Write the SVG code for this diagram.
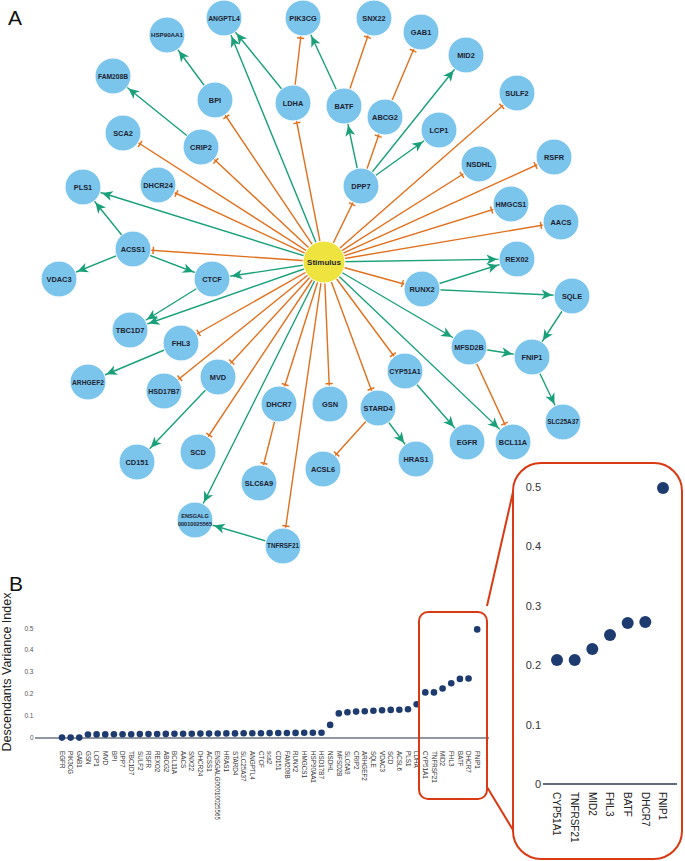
<svg xmlns="http://www.w3.org/2000/svg" width="685" height="861" viewBox="0 0 685 861">
<style>
.node circle{fill:#7bc4ec;stroke:#ffffff;stroke-width:1}
.node text{font-family:"Liberation Sans",Arial,sans-serif;font-weight:bold;font-size:7.4px;fill:#1d2330;text-anchor:middle}
.stim circle{fill:#efe33f}
.stim text{font-size:8px}
.a{stroke:#1aa078;stroke-width:1.4;fill:none;marker-end:url(#arr)}
.i{stroke:#e0701e;stroke-width:1.4;fill:none;marker-end:url(#tee)}
.panel{font-family:"Liberation Sans",Arial,sans-serif;font-size:21px;fill:#111}
.tick{font-family:"Liberation Sans",Arial,sans-serif;font-size:6.5px;fill:#555;text-anchor:end}
.xl{font-family:"Liberation Sans",Arial,sans-serif;font-size:6.3px;fill:#333}
.dot{fill:#1e3b70}
.itick{font-family:"Liberation Sans",Arial,sans-serif;font-size:11px;fill:#333;text-anchor:end}
.ixl{font-family:"Liberation Sans",Arial,sans-serif;font-size:10px;fill:#222}
.box{fill:none;stroke:#d93a14;stroke-width:2}
</style>
<defs>
<marker id="arr" markerUnits="userSpaceOnUse" orient="auto" overflow="visible" refX="0" refY="0" markerWidth="40" markerHeight="40">
<path d="M-19.8,0 L-30.5,-5 L-27.5,0 L-30.5,5 Z" fill="#1aa078"/>
</marker>
<marker id="tee" markerUnits="userSpaceOnUse" orient="auto" overflow="visible" refX="0" refY="0" markerWidth="40" markerHeight="40">
<path d="M-20.3,-3.6 L-20.3,3.6" stroke="#e0701e" stroke-width="1.5" fill="none"/>
</marker>
</defs>
<rect width="685" height="861" fill="#ffffff"/>
<text class="panel" x="8" y="25">A</text>
<text class="panel" x="9" y="591">B</text>

<g id="edges">
<line class="a" x1="324" y1="262" x2="224" y2="18"/>
<line class="a" x1="324" y1="262" x2="83" y2="187"/>
<line class="a" x1="324" y1="262" x2="212" y2="279"/>
<line class="a" x1="324" y1="262" x2="130" y2="330"/>
<line class="a" x1="324" y1="262" x2="195" y2="520"/>
<line class="a" x1="324" y1="262" x2="517" y2="259"/>
<line class="a" x1="324" y1="262" x2="469" y2="347"/>
<line class="a" x1="324" y1="262" x2="513" y2="442"/>
<line class="i" x1="324" y1="262" x2="215" y2="100"/>
<line class="i" x1="324" y1="262" x2="123" y2="133"/>
<line class="i" x1="324" y1="262" x2="201" y2="147"/>
<line class="i" x1="324" y1="262" x2="158" y2="185"/>
<line class="i" x1="324" y1="262" x2="293" y2="103"/>
<line class="i" x1="324" y1="262" x2="361" y2="186"/>
<line class="i" x1="324" y1="262" x2="517" y2="93"/>
<line class="i" x1="324" y1="262" x2="479" y2="164"/>
<line class="i" x1="324" y1="262" x2="554" y2="157"/>
<line class="i" x1="324" y1="262" x2="511" y2="204"/>
<line class="i" x1="324" y1="262" x2="561" y2="222"/>
<line class="i" x1="324" y1="262" x2="133" y2="249"/>
<line class="i" x1="324" y1="262" x2="422" y2="289"/>
<line class="i" x1="324" y1="262" x2="405" y2="371"/>
<line class="i" x1="324" y1="262" x2="181" y2="343"/>
<line class="i" x1="324" y1="262" x2="164" y2="391"/>
<line class="i" x1="324" y1="262" x2="218" y2="377"/>
<line class="i" x1="324" y1="262" x2="198" y2="452"/>
<line class="i" x1="324" y1="262" x2="279" y2="404"/>
<line class="i" x1="324" y1="262" x2="330" y2="404"/>
<line class="i" x1="324" y1="262" x2="283" y2="546"/>
<line class="i" x1="324" y1="262" x2="378" y2="408"/>
<line class="a" x1="215" y1="100" x2="167" y2="35"/>
<line class="a" x1="201" y1="147" x2="113" y2="76"/>
<line class="a" x1="293" y1="103" x2="224" y2="18"/>
<line class="i" x1="293" y1="103" x2="303" y2="18"/>
<line class="a" x1="344" y1="106" x2="303" y2="18"/>
<line class="i" x1="344" y1="106" x2="374" y2="18"/>
<line class="i" x1="385" y1="117" x2="421" y2="32"/>
<line class="a" x1="361" y1="186" x2="344" y2="106"/>
<line class="i" x1="361" y1="186" x2="385" y2="117"/>
<line class="a" x1="361" y1="186" x2="466" y2="55"/>
<line class="a" x1="361" y1="186" x2="439" y2="130"/>
<line class="a" x1="133" y1="249" x2="83" y2="187"/>
<line class="a" x1="133" y1="249" x2="59" y2="279"/>
<line class="a" x1="133" y1="249" x2="212" y2="279"/>
<line class="a" x1="212" y1="279" x2="130" y2="330"/>
<line class="a" x1="181" y1="343" x2="88" y2="382"/>
<line class="a" x1="218" y1="377" x2="137" y2="462"/>
<line class="i" x1="279" y1="404" x2="259" y2="483"/>
<line class="i" x1="378" y1="408" x2="323" y2="469"/>
<line class="a" x1="378" y1="408" x2="416" y2="459"/>
<line class="a" x1="405" y1="371" x2="467" y2="442"/>
<line class="a" x1="283" y1="546" x2="195" y2="520"/>
<line class="a" x1="422" y1="289" x2="517" y2="259"/>
<line class="a" x1="422" y1="289" x2="572" y2="296"/>
<line class="a" x1="572" y1="296" x2="532" y2="357"/>
<line class="a" x1="469" y1="347" x2="532" y2="357"/>
<line class="a" x1="532" y1="357" x2="563" y2="422"/>
<line class="i" x1="469" y1="347" x2="513" y2="442"/>
</g>

<g id="nodes">
<g id="node-stimulus" class="node stim"><circle cx="324" cy="262" r="21"/><text x="324" y="264.9">Stimulus</text></g>
<g id="node-ANGPTL4" class="node"><circle cx="224" cy="18" r="18"/><text x="224" y="20.5" style="font-size:6.8px">ANGPTL4</text></g>
<g id="node-HSP90AA1" class="node"><circle cx="167" cy="35" r="18"/><text x="167" y="37.3" style="font-size:6.2px">HSP90AA1</text></g>
<g id="node-PIK3CG" class="node"><circle cx="303" cy="18" r="18"/><text x="303" y="20.7">PIK3CG</text></g>
<g id="node-SNX22" class="node"><circle cx="374" cy="18" r="18"/><text x="374" y="20.7">SNX22</text></g>
<g id="node-GAB1" class="node"><circle cx="421" cy="32" r="18"/><text x="421" y="34.7">GAB1</text></g>
<g id="node-MID2" class="node"><circle cx="466" cy="55" r="18"/><text x="466" y="57.7">MID2</text></g>
<g id="node-SULF2" class="node"><circle cx="517" cy="93" r="18"/><text x="517" y="95.7">SULF2</text></g>
<g id="node-FAM208B" class="node"><circle cx="113" cy="76" r="18"/><text x="113" y="78.5" style="font-size:6.7px">FAM208B</text></g>
<g id="node-BPI" class="node"><circle cx="215" cy="100" r="18"/><text x="215" y="102.7">BPI</text></g>
<g id="node-LDHA" class="node"><circle cx="293" cy="103" r="18"/><text x="293" y="105.7">LDHA</text></g>
<g id="node-BATF" class="node"><circle cx="344" cy="106" r="18"/><text x="344" y="108.7">BATF</text></g>
<g id="node-ABCG2" class="node"><circle cx="385" cy="117" r="18"/><text x="385" y="119.7">ABCG2</text></g>
<g id="node-LCP1" class="node"><circle cx="439" cy="130" r="18"/><text x="439" y="132.7">LCP1</text></g>
<g id="node-SCA2" class="node"><circle cx="123" cy="133" r="18"/><text x="123" y="135.7">SCA2</text></g>
<g id="node-CRIP2" class="node"><circle cx="201" cy="147" r="18"/><text x="201" y="149.7">CRIP2</text></g>
<g id="node-NSDHL" class="node"><circle cx="479" cy="164" r="18"/><text x="479" y="166.7">NSDHL</text></g>
<g id="node-RSFR" class="node"><circle cx="554" cy="157" r="18"/><text x="554" y="159.7">RSFR</text></g>
<g id="node-DHCR24" class="node"><circle cx="158" cy="185" r="18"/><text x="158" y="187.7">DHCR24</text></g>
<g id="node-DPP7" class="node"><circle cx="361" cy="186" r="18"/><text x="361" y="188.7">DPP7</text></g>
<g id="node-PLS1" class="node"><circle cx="83" cy="187" r="18"/><text x="83" y="189.7">PLS1</text></g>
<g id="node-HMGCS1" class="node"><circle cx="511" cy="204" r="18"/><text x="511" y="206.6" style="font-size:7.2px">HMGCS1</text></g>
<g id="node-AACS" class="node"><circle cx="561" cy="222" r="18"/><text x="561" y="224.7">AACS</text></g>
<g id="node-ACSS1" class="node"><circle cx="133" cy="249" r="18"/><text x="133" y="251.7">ACSS1</text></g>
<g id="node-VDAC3" class="node"><circle cx="59" cy="279" r="18"/><text x="59" y="281.7">VDAC3</text></g>
<g id="node-CTCF" class="node"><circle cx="212" cy="279" r="18"/><text x="212" y="281.7">CTCF</text></g>
<g id="node-REX02" class="node"><circle cx="517" cy="259" r="18"/><text x="517" y="261.7">REX02</text></g>
<g id="node-RUNX2" class="node"><circle cx="422" cy="289" r="18"/><text x="422" y="291.7">RUNX2</text></g>
<g id="node-SQLE" class="node"><circle cx="572" cy="296" r="18"/><text x="572" y="298.7">SQLE</text></g>
<g id="node-TBC1D7" class="node"><circle cx="130" cy="330" r="18"/><text x="130" y="332.7">TBC1D7</text></g>
<g id="node-FHL3" class="node"><circle cx="181" cy="343" r="18"/><text x="181" y="345.7">FHL3</text></g>
<g id="node-MFSD2B" class="node"><circle cx="469" cy="347" r="18"/><text x="469" y="349.6" style="font-size:7.2px">MFSD2B</text></g>
<g id="node-FNIP1" class="node"><circle cx="532" cy="357" r="18"/><text x="532" y="359.7">FNIP1</text></g>
<g id="node-ARHGEF2" class="node"><circle cx="88" cy="382" r="18"/><text x="88" y="384.5" style="font-size:6.7px">ARHGEF2</text></g>
<g id="node-HSD17B7" class="node"><circle cx="164" cy="391" r="18"/><text x="164" y="393.5" style="font-size:7px">HSD17B7</text></g>
<g id="node-MVD" class="node"><circle cx="218" cy="377" r="18"/><text x="218" y="379.7">MVD</text></g>
<g id="node-CYP51A1" class="node"><circle cx="405" cy="371" r="18"/><text x="405" y="373.6" style="font-size:7.1px">CYP51A1</text></g>
<g id="node-DHCR7" class="node"><circle cx="279" cy="404" r="18"/><text x="279" y="406.7">DHCR7</text></g>
<g id="node-GSN" class="node"><circle cx="330" cy="404" r="18"/><text x="330" y="406.7">GSN</text></g>
<g id="node-STARD4" class="node"><circle cx="378" cy="408" r="18"/><text x="378" y="410.7">STARD4</text></g>
<g id="node-SLC25A37" class="node"><circle cx="563" cy="422" r="18"/><text x="563" y="424.3" style="font-size:6.4px">SLC25A37</text></g>
<g id="node-EGFR" class="node"><circle cx="467" cy="442" r="18"/><text x="467" y="444.7">EGFR</text></g>
<g id="node-BCL11A" class="node"><circle cx="513" cy="442" r="18"/><text x="513" y="444.7">BCL11A</text></g>
<g id="node-CD151" class="node"><circle cx="137" cy="462" r="18"/><text x="137" y="464.7">CD151</text></g>
<g id="node-SCD" class="node"><circle cx="198" cy="452" r="18"/><text x="198" y="454.7">SCD</text></g>
<g id="node-SLC6A9" class="node"><circle cx="259" cy="483" r="18"/><text x="259" y="485.7">SLC6A9</text></g>
<g id="node-ACSL6" class="node"><circle cx="323" cy="469" r="18"/><text x="323" y="471.7">ACSL6</text></g>
<g id="node-HRAS1" class="node"><circle cx="416" cy="459" r="18"/><text x="416" y="461.7">HRAS1</text></g>
<g id="node-ENSGALG00010025565" class="node"><circle cx="195" cy="520" r="18"/><text x="195" y="518" style="font-size:5.6px">ENSGALG</text><text x="195" y="525.5" style="font-size:5.6px">00010025565</text></g>
<g id="node-TNFRSF21" class="node"><circle cx="283" cy="546" r="18"/><text x="283" y="548.3" style="font-size:6.3px">TNFRSF21</text></g>
</g>

<g id="chart-main">
<text transform="translate(10.5,672) rotate(-90)" style="font-family:'Liberation Sans',Arial,sans-serif;font-size:12.5px;fill:#222;text-anchor:middle">Descendants Variance Index</text>
<text class="tick" x="33.5" y="631.3">0.5</text>
<text class="tick" x="33.5" y="652.3">0.4</text>
<text class="tick" x="33.5" y="674.3">0.3</text>
<text class="tick" x="33.5" y="696.3">0.2</text>
<text class="tick" x="33.5" y="718.3">0.1</text>
<text class="tick" x="33.5" y="740.3">0</text>
<line x1="35" y1="738" x2="489" y2="738" stroke="#6b7480" stroke-width="1.5"/>
<g id="dots-main">
<circle class="dot" cx="62" cy="737.6" r="3.3"/>
<circle class="dot" cx="70.65" cy="737.6" r="3.3"/>
<circle class="dot" cx="79.3" cy="737.6" r="3.3"/>
<circle class="dot" cx="87.95" cy="734.5" r="3.3"/>
<circle class="dot" cx="96.6" cy="734.4" r="3.3"/>
<circle class="dot" cx="105.25" cy="734.4" r="3.3"/>
<circle class="dot" cx="113.9" cy="734.3" r="3.3"/>
<circle class="dot" cx="122.55" cy="734.2" r="3.3"/>
<circle class="dot" cx="131.2" cy="734.2" r="3.3"/>
<circle class="dot" cx="139.85" cy="734.1" r="3.3"/>
<circle class="dot" cx="148.5" cy="734" r="3.3"/>
<circle class="dot" cx="157.15" cy="734" r="3.3"/>
<circle class="dot" cx="165.8" cy="733.9" r="3.3"/>
<circle class="dot" cx="174.45" cy="733.8" r="3.3"/>
<circle class="dot" cx="183.1" cy="733.8" r="3.3"/>
<circle class="dot" cx="191.75" cy="733.7" r="3.3"/>
<circle class="dot" cx="200.4" cy="733.6" r="3.3"/>
<circle class="dot" cx="209.05" cy="733.6" r="3.3"/>
<circle class="dot" cx="217.7" cy="733.5" r="3.3"/>
<circle class="dot" cx="226.35" cy="733.4" r="3.3"/>
<circle class="dot" cx="235" cy="733.4" r="3.3"/>
<circle class="dot" cx="243.65" cy="733.3" r="3.3"/>
<circle class="dot" cx="252.3" cy="733.2" r="3.3"/>
<circle class="dot" cx="260.95" cy="733.2" r="3.3"/>
<circle class="dot" cx="269.6" cy="733.1" r="3.3"/>
<circle class="dot" cx="278.25" cy="733" r="3.3"/>
<circle class="dot" cx="286.9" cy="733" r="3.3"/>
<circle class="dot" cx="295.55" cy="732.9" r="3.3"/>
<circle class="dot" cx="304.2" cy="732.8" r="3.3"/>
<circle class="dot" cx="312.85" cy="732.8" r="3.3"/>
<circle class="dot" cx="321.5" cy="732.7" r="3.3"/>
<circle class="dot" cx="330.15" cy="724.9" r="3.3"/>
<circle class="dot" cx="338.8" cy="713.4" r="3.3"/>
<circle class="dot" cx="347.45" cy="712.3" r="3.3"/>
<circle class="dot" cx="356.1" cy="711.6" r="3.3"/>
<circle class="dot" cx="364.75" cy="711.2" r="3.3"/>
<circle class="dot" cx="373.4" cy="710.75" r="3.3"/>
<circle class="dot" cx="382.05" cy="710.3" r="3.3"/>
<circle class="dot" cx="390.7" cy="709.9" r="3.3"/>
<circle class="dot" cx="399.35" cy="709.7" r="3.3"/>
<circle class="dot" cx="408" cy="709.2" r="3.3"/>
<circle class="dot" cx="416.65" cy="704.2" r="3.3"/>
<circle class="dot" cx="425.3" cy="692.4" r="3.3"/>
<circle class="dot" cx="433.95" cy="692.4" r="3.3"/>
<circle class="dot" cx="442.6" cy="688.5" r="3.3"/>
<circle class="dot" cx="451.25" cy="683.3" r="3.3"/>
<circle class="dot" cx="459.9" cy="678.9" r="3.3"/>
<circle class="dot" cx="468.55" cy="678.5" r="3.3"/>
<circle class="dot" cx="477.2" cy="629.4" r="3.3"/>
</g>
<g id="labels-main">
<text class="xl" transform="translate(59.7,751) rotate(90)">EGFR</text>
<text class="xl" transform="translate(68.35,751) rotate(90)">PIK3CG</text>
<text class="xl" transform="translate(77,751) rotate(90)">GAB1</text>
<text class="xl" transform="translate(85.65,751) rotate(90)">GSN</text>
<text class="xl" transform="translate(94.3,751) rotate(90)">LCP1</text>
<text class="xl" transform="translate(102.95,751) rotate(90)">MVD</text>
<text class="xl" transform="translate(111.6,751) rotate(90)">BPI</text>
<text class="xl" transform="translate(120.25,751) rotate(90)">DPP7</text>
<text class="xl" transform="translate(128.9,751) rotate(90)">TBC1D7</text>
<text class="xl" transform="translate(137.55,751) rotate(90)">SULF2</text>
<text class="xl" transform="translate(146.2,751) rotate(90)">RSFR</text>
<text class="xl" transform="translate(154.85,751) rotate(90)">REXO2</text>
<text class="xl" transform="translate(163.5,751) rotate(90)">ABCG2</text>
<text class="xl" transform="translate(172.15,751) rotate(90)">BCL11A</text>
<text class="xl" transform="translate(180.8,751) rotate(90)">AACS</text>
<text class="xl" transform="translate(189.45,751) rotate(90)">SNX22</text>
<text class="xl" transform="translate(198.1,751) rotate(90)">DHCR24</text>
<text class="xl" transform="translate(206.75,751) rotate(90)">ACSS1</text>
<text class="xl" transform="translate(215.4,751) rotate(90)">ENSGALG00010025565</text>
<text class="xl" transform="translate(224.05,751) rotate(90)">HRAS1</text>
<text class="xl" transform="translate(232.7,751) rotate(90)">STARD4</text>
<text class="xl" transform="translate(241.35,751) rotate(90)">SLC25A37</text>
<text class="xl" transform="translate(250,751) rotate(90)">ANGPTL4</text>
<text class="xl" transform="translate(258.65,751) rotate(90)">CTCF</text>
<text class="xl" transform="translate(267.3,751) rotate(90)">sca2</text>
<text class="xl" transform="translate(275.95,751) rotate(90)">CD151</text>
<text class="xl" transform="translate(284.6,751) rotate(90)">FAM208B</text>
<text class="xl" transform="translate(293.25,751) rotate(90)">RUNX2</text>
<text class="xl" transform="translate(301.9,751) rotate(90)">HMGCS1</text>
<text class="xl" transform="translate(310.55,751) rotate(90)">HSP90AA1</text>
<text class="xl" transform="translate(319.2,751) rotate(90)">HSD17B7</text>
<text class="xl" transform="translate(327.85,751) rotate(90)">NSDHL</text>
<text class="xl" transform="translate(336.5,751) rotate(90)">MFSD2B</text>
<text class="xl" transform="translate(345.15,751) rotate(90)">SLC6A9</text>
<text class="xl" transform="translate(353.8,751) rotate(90)">CRIP2</text>
<text class="xl" transform="translate(362.45,751) rotate(90)">ARHGEF2</text>
<text class="xl" transform="translate(371.1,751) rotate(90)">SQLE</text>
<text class="xl" transform="translate(379.75,751) rotate(90)">VDAC3</text>
<text class="xl" transform="translate(388.4,751) rotate(90)">SCD</text>
<text class="xl" transform="translate(397.05,751) rotate(90)">ACSL6</text>
<text class="xl" transform="translate(405.7,751) rotate(90)">PLS1</text>
<text class="xl" transform="translate(414.35,751) rotate(90)">LDHA</text>
<text class="xl" transform="translate(423,751) rotate(90)">CYP51A1</text>
<text class="xl" transform="translate(431.65,751) rotate(90)">TNFRSF21</text>
<text class="xl" transform="translate(440.3,751) rotate(90)">MID2</text>
<text class="xl" transform="translate(448.95,751) rotate(90)">FHL3</text>
<text class="xl" transform="translate(457.6,751) rotate(90)">BATF</text>
<text class="xl" transform="translate(466.25,751) rotate(90)">DHCR7</text>
<text class="xl" transform="translate(474.9,751) rotate(90)">FNIP1</text>
</g>
</g>

<g id="zoom-links">
<rect class="box" x="419" y="612" width="68" height="187" rx="9"/>
<line class="box" x1="487" y1="606" x2="513" y2="492"/>
<line class="box" x1="487" y1="787" x2="513" y2="830"/>
<rect class="box" x="513" y="463" width="169" height="396" rx="28"/>
</g>

<g id="chart-inset">
<text class="itick" x="541" y="491">0.5</text>
<text class="itick" x="541" y="550.4">0.4</text>
<text class="itick" x="541" y="609.8">0.3</text>
<text class="itick" x="541" y="669.2">0.2</text>
<text class="itick" x="541" y="728.6">0.1</text>
<text class="itick" x="541" y="788">0</text>
<line x1="543" y1="784" x2="677" y2="784" stroke="#2d3b55" stroke-width="1.5"/>
<circle class="dot" cx="557" cy="660" r="6"/>
<circle class="dot" cx="574.7" cy="660" r="6"/>
<circle class="dot" cx="592.3" cy="649" r="6"/>
<circle class="dot" cx="610" cy="635" r="6"/>
<circle class="dot" cx="627.7" cy="623" r="6"/>
<circle class="dot" cx="645.3" cy="622" r="6"/>
<circle class="dot" cx="663" cy="488" r="6"/>
<text class="ixl" transform="translate(553.4,792) rotate(90)">CYP51A1</text>
<text class="ixl" transform="translate(571.1,792) rotate(90)">TNFRSF21</text>
<text class="ixl" transform="translate(588.7,792) rotate(90)">MID2</text>
<text class="ixl" transform="translate(606.4,792) rotate(90)">FHL3</text>
<text class="ixl" transform="translate(624.1,792) rotate(90)">BATF</text>
<text class="ixl" transform="translate(641.7,792) rotate(90)">DHCR7</text>
<text class="ixl" transform="translate(659.4,792) rotate(90)">FNIP1</text>
</g>
</svg>
